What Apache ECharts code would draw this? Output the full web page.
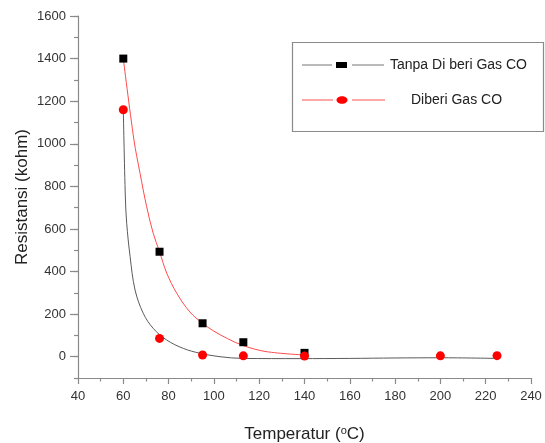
<!DOCTYPE html>
<html>
<head>
<meta charset="utf-8">
<script src="https://cdn.jsdelivr.net/npm/echarts@6/dist/echarts.min.js"></script>
<style>html,body{margin:0;padding:0;background:#fff}#c{width:545px;height:443px}</style>
</head>
<body>
<div id="c"></div>
<script>
// Measured points
const tanpaX = [60, 76, 95, 113, 140];
const tanpaY = [1400, 493, 157, 68, 18];
const diberiX = [60, 76, 95, 113, 140, 200, 225];
const diberiY = [1160, 86, 8, 4, 3, 4, 5];
// Fitted curves
const grayCurveX = [60, 60.9, 61.5, 63.0, 65.2, 68.8, 73.2, 79.2, 86.5, 93.9, 102.7, 112.7, 138, 160, 180, 200, 225];
const grayCurveY = [1160, 750, 627, 470, 313, 204, 133, 78, 39, 16, 0, -8, -9, -8, -6, -5, -8];
const redCurveX = [60, 64.7, 67.4, 70.3, 73.2, 76, 79.2, 83.6, 89.4, 95, 100, 106, 113, 123, 140];
const redCurveY = [1400, 1018, 861, 705, 580, 493, 392, 298, 210, 157, 120, 85, 52, 24, 8];
const xTicks = [40, 60, 80, 100, 120, 140, 160, 180, 200, 220, 240];
const yTicks = [0, 200, 400, 600, 800, 1000, 1200, 1400, 1600];
const yMinorStep = 100;
const yBottom = -100;
const legendNames = ['Tanpa Di beri Gas CO', 'Diberi Gas CO'];

const zip = (a, b) => a.map((v, i) => [v, b[i]]);
const font = 'Liberation Sans, Arial, sans-serif';
const axisCol = '#8a8a8a';
const labelCol = '#333';

// grid geometry: second grid shares scale with first but starts at y=0
const gTop = 16, gBottom = 65, H = 443;
const plotH = H - gTop - gBottom;
const yMax = yTicks[yTicks.length - 1];
const g2Bottom = gBottom + plotH * (0 - yBottom) / (yMax - yBottom);

const chart = echarts.init(document.getElementById('c'), null, {renderer: 'canvas'});
chart.setOption({
  animation: false,
  grid: [
    {left: 78, right: 14, top: gTop, bottom: gBottom, containLabel: false, outerBoundsMode: 'none'},
    {left: 78, right: 14, top: gTop, bottom: g2Bottom, containLabel: false, outerBoundsMode: 'none'}
  ],
  xAxis: [{
    gridIndex: 0,
    type: 'value', min: xTicks[0], max: xTicks[xTicks.length - 1], interval: 20,
    splitLine: {show: false},
    axisLine: {onZero: false, lineStyle: {color: axisCol, width: 1.2}},
    axisTick: {length: 6, lineStyle: {color: axisCol, width: 1.2}},
    minorTick: {show: true, splitNumber: 2, length: 3.5, lineStyle: {color: axisCol, width: 1.2}},
    axisLabel: {color: labelCol, fontFamily: font, fontSize: 13, margin: 12, formatter: v => String(v)},
    name: '{n|Temperatur (}{s|o}{n|C)}',
    nameLocation: 'middle', nameGap: 47,
    nameTextStyle: {
      rich: {
        n: {fontFamily: font, fontSize: 17, color: '#222'},
        s: {fontFamily: font, fontSize: 11, color: '#222', verticalAlign: 'top', padding: [0, 0, 8, 0]}
      }
    }
  }, {
    gridIndex: 1, show: false,
    type: 'value', min: xTicks[0], max: xTicks[xTicks.length - 1]
  }],
  yAxis: [{
    gridIndex: 0,
    type: 'value', min: yBottom, max: yMax, interval: yMinorStep,
    splitLine: {show: false},
    axisLine: {show: true, onZero: false, lineStyle: {color: axisCol, width: 1.2}},
    axisTick: {show: true, length: 4, lineStyle: {color: axisCol, width: 1.2}},
    axisLabel: {show: false},
    name: 'Resistansi (kohm)', nameLocation: 'middle', nameGap: 47,
    nameTextStyle: {fontFamily: font, fontSize: 17, color: '#222'}
  }, {
    gridIndex: 1,
    type: 'value', min: yTicks[0], max: yMax, interval: 200,
    splitLine: {show: false},
    axisLine: {show: false},
    axisTick: {show: true, length: 8, lineStyle: {color: axisCol, width: 1.2}},
    axisLabel: {color: labelCol, fontFamily: font, fontSize: 13, margin: 12, formatter: v => String(v)}
  }],
  series: [
    {type: 'line', data: zip(grayCurveX, grayCurveY), smooth: 0.35, showSymbol: false, silent: true,
     lineStyle: {color: '#5a5a5a', width: 1}, z: 2},
    {type: 'line', data: zip(redCurveX, redCurveY), smooth: 0.35, showSymbol: false, silent: true,
     lineStyle: {color: '#ff4a4a', width: 1}, z: 2},
    {name: legendNames[0], type: 'scatter', data: zip(tanpaX, tanpaY), symbol: 'rect', symbolSize: 8,
     itemStyle: {color: '#000', opacity: 1}, z: 3},
    {name: legendNames[1], type: 'scatter', data: zip(diberiX, diberiY), symbol: 'circle', symbolSize: 9,
     itemStyle: {color: '#ff0000', opacity: 1}, z: 4}
  ],
  graphic: [
    {type: 'rect', shape: {x: 292.5, y: 42.5, width: 251, height: 89}, style: {fill: '#fff', stroke: '#8a8a8a', lineWidth: 1.2}, z: 10},
    {type: 'line', shape: {x1: 302, y1: 65, x2: 332, y2: 65}, style: {stroke: '#777', lineWidth: 1}, z: 11},
    {type: 'rect', shape: {x: 336, y: 62, width: 11, height: 6}, style: {fill: '#000'}, z: 11},
    {type: 'line', shape: {x1: 352, y1: 65, x2: 384, y2: 65}, style: {stroke: '#777', lineWidth: 1}, z: 11},
    {type: 'text', left: 390, top: 58, style: {text: legendNames[0], fontFamily: font, fontSize: 14, fill: '#222'}, z: 11},
    {type: 'line', shape: {x1: 302, y1: 100, x2: 333, y2: 100}, style: {stroke: '#ff5050', lineWidth: 1}, z: 11},
    {type: 'ellipse', shape: {cx: 342, cy: 100, rx: 5.5, ry: 3.8}, style: {fill: '#ff0000'}, z: 11},
    {type: 'line', shape: {x1: 352, y1: 100, x2: 385, y2: 100}, style: {stroke: '#ff5050', lineWidth: 1}, z: 11},
    {type: 'text', left: 411, top: 93, style: {text: legendNames[1], fontFamily: font, fontSize: 14, fill: '#222'}, z: 11}
  ]
});
</script>
</body>
</html>
